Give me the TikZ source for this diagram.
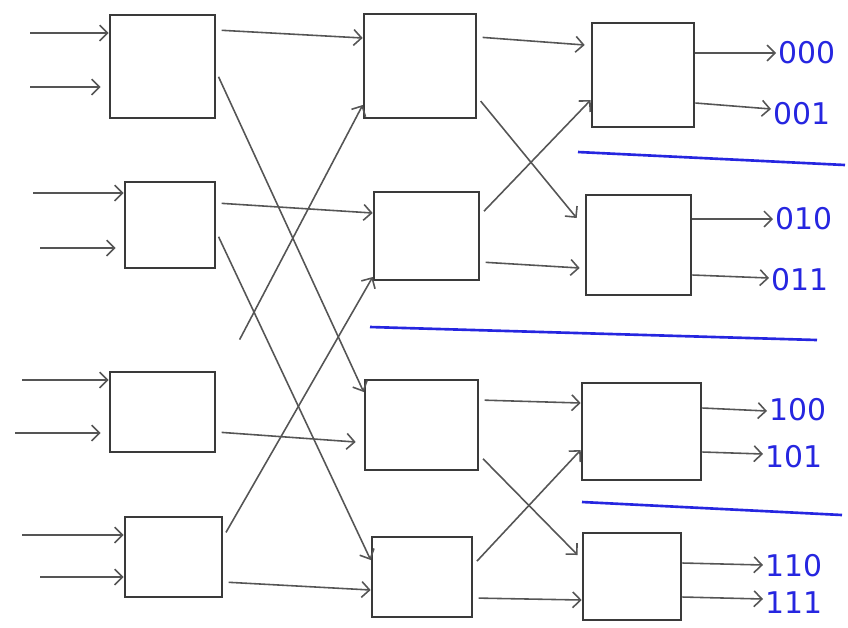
\documentclass[tikz,border=0pt]{standalone}
\usepackage{fontspec}
\usetikzlibrary{arrows.meta,fit,calc}
\newfontfamily\lblfont{DejaVu Sans}
\definecolor{ink}{HTML}{3A3A3A}
\definecolor{pen}{HTML}{555555}
\definecolor{bluepen}{HTML}{2626E0}
\tikzset{
  box/.style={draw=ink, line width=1.5pt, inner sep=0pt, fill=none},
  arr/.style={draw=pen, line width=0.9pt, -{Straight Barb[length=4.5pt,width=9pt,line width=0.9pt]}},
  link/.style={arr, shorten <=3pt},
  sep/.style={draw=bluepen, line width=1.5pt},
  lbl/.style={text=bluepen, font=\lblfont\fontsize{17}{17}\selectfont, anchor=west, inner sep=1pt}
}
\begin{document}
\begin{tikzpicture}[x=0.02cm, y=-0.02cm]
\useasboundingbox (0,0) rectangle (848,627);
% column 1
\node[box, fit={(110,15) (215,118)}] (A1) {};
\node[box, fit={(125,182) (215,268)}] (A2) {};
\node[box, fit={(110,372) (215,452)}] (A3) {};
\node[box, fit={(125,517) (222,597)}] (A4) {};
% column 2
\node[box, fit={(364,14) (476,118)}] (B1) {};
\node[box, fit={(374,192) (479,280)}] (B2) {};
\node[box, fit={(365,380) (478,470)}] (B3) {};
\node[box, fit={(372,537) (472,617)}] (B4) {};
% column 3
\node[box, fit={(592,23) (694,127)}] (C1) {};
\node[box, fit={(586,195) (691,295)}] (C2) {};
\node[box, fit={(582,383) (701,480)}] (C3) {};
\node[box, fit={(583,533) (681,620)}] (C4) {};
% inputs
\coordinate (i1) at (30,33);
\coordinate (i2) at (30,87);
\coordinate (i3) at (33,193);
\coordinate (i4) at (40,248);
\coordinate (i5) at (22,380);
\coordinate (i6) at (15,433);
\coordinate (i7) at (22,535);
\coordinate (i8) at (40,577);
\draw[arr] (i1) -- (A1.west |- i1);
\draw[arr] (i2) -- ($(A1.west |- i2)+(-8,0)$);
\draw[arr] (i3) -- (A2.west |- i3);
\draw[arr] (i4) -- ($(A2.west |- i4)+(-8,0)$);
\draw[arr] (i5) -- (A3.west |- i5);
\draw[arr] (i6) -- ($(A3.west |- i6)+(-8,0)$);
\draw[arr] (i7) -- (A4.west |- i7);
\draw[arr] (i8) -- (A4.west |- i8);
% stage 1 -> 2
\draw[link] (A1.east |- 0,30) -- (B1.west |- 0,38);
\draw[link] (A1.east |- 0,72) -- (B3.west |- 0,392);
\draw[link] (A2.east |- 0,203) -- (B2.west |- 0,213);
\draw[link] (A2.east |- 0,232) -- (B4.west |- 0,560);
\draw[link] (A3.east |- 0,432) -- ($(B3.west |- 0,442)+(-8,0)$);
\draw[arr, shorten <=20pt] ($(A3.north east)+(7,0)$) -- (B1.west |- 0,105);
\draw[link] (A4.east |- 0,537) -- (B2.west |- 0,277);
\draw[link] (A4.east |- 0,582) -- (B4.west |- 0,590);
% stage 2 -> 3
\draw[link] (B1.east |- 0,37) -- ($(C1.west |- 0,45)+(-6,0)$);
\draw[link] (B1.east |- 0,97) -- ($(C2.west |- 0,218)+(-8,0)$);
\draw[link] (B2.east |- 0,215) -- (C1.west |- 0,100);
\draw[link] (B2.east |- 0,262) -- ($(C2.west |- 0,268)+(-5,0)$);
\draw[link] (B3.east |- 0,400) -- (C3.west |- 0,403);
\draw[link] (B3.east |- 0,455) -- ($(C4.west |- 0,555)+(-4,0)$);
\draw[link] (B4.east |- 0,565) -- (C3.west |- 0,450);
\draw[link] (B4.east |- 0,598) -- (C4.west |- 0,600);
% outputs
\node[lbl] (o1) at (776,53) {000};
\node[lbl] (o2) at (771,114) {001};
\node[lbl] (o3) at (773,219) {010};
\node[lbl] (o4) at (769,280) {011};
\node[lbl] (o5) at (767,410) {100};
\node[lbl] (o6) at (763,457) {101};
\node[lbl] (o7) at (763,566) {110};
\node[lbl] (o8) at (763,603) {111};
\draw[arr] (C1.east |- 0,53) -- (o1.west |- 0,53);
\draw[arr] (C1.east |- 0,103) -- (o2.west |- 0,109);
\draw[arr] (C2.east |- 0,219) -- (o3.west |- 0,219);
\draw[arr] (C2.east |- 0,275) -- (o4.west |- 0,278);
\draw[arr] (C3.east |- 0,408) -- (o5.west |- 0,411);
\draw[arr] (C3.east |- 0,452) -- (o6.west |- 0,454);
\draw[arr] (C4.east |- 0,563) -- (o7.west |- 0,565);
\draw[arr] (C4.east |- 0,597) -- (o8.west |- 0,599);
% separators
\draw[sep] (578,152) -- (845,165);
\draw[sep] (370,327) -- (817,340);
\draw[sep] (582,502) -- (842,515);
\end{tikzpicture}
\end{document}
